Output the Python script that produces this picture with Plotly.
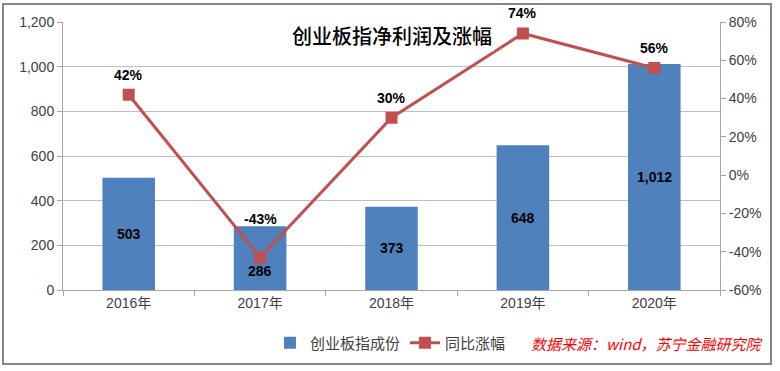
import plotly.graph_objects as go

years = ["2016年", "2017年", "2018年", "2019年", "2020年"]
profit = [503, 286, 373, 648, 1012]
growth = [0.42, -0.43, 0.30, 0.74, 0.56]
profit_labels = ["503", "286", "373", "648", "1,012"]
growth_labels = ["42%", "-43%", "30%", "74%", "56%"]
left_ticks = [0, 200, 400, 600, 800, 1000, 1200]
left_ticktext = ["0", "200", "400", "600", "800", "1,000", "1,200"]
right_ticks = [-0.6, -0.4, -0.2, 0.0, 0.2, 0.4, 0.6, 0.8]
right_ticktext = ["-60%", "-40%", "-20%", "0%", "20%", "40%", "60%", "80%"]

BAR = "#4F81BD"
LINE = "#C0504D"
FONT = "Liberation Sans, Noto Sans CJK SC, sans-serif"
CJK = "Noto Sans CJK SC, sans-serif"

fig = go.Figure()
fig.add_trace(go.Bar(x=years, y=profit, name="创业板指成份", marker_color=BAR,
                     marker_line_width=0, yaxis="y"))
fig.add_trace(go.Scatter(x=years, y=growth, name="同比涨幅", mode="lines+markers",
                         line=dict(color=LINE, width=3),
                         marker=dict(symbol="square", size=12, color=LINE),
                         yaxis="y2"))

ann = []
for i, (c, v) in enumerate(zip(years, profit)):
    ann.append(dict(x=c, y=v / 2, xref="x", yref="y", text="<b>%s</b>" % profit_labels[i],
                    showarrow=False, font=dict(size=14, color="black", family=FONT),
                    yshift=-13 if i == 1 else 0))
for i, (c, v) in enumerate(zip(years, growth)):
    ann.append(dict(x=c, y=v, xref="x", yref="y2", text="<b>%s</b>" % growth_labels[i],
                    showarrow=False, font=dict(size=14, color="black", family=FONT),
                    yshift=38 if i == 1 else 20))
ann.append(dict(x=0.5, y=1.0, xref="paper", yref="paper", yanchor="top", yshift=3,
                text="创业板指净利润及涨幅", showarrow=False, bgcolor="white",
                font=dict(size=20, color="black", family=CJK, weight=500)))
ann.append(dict(x=0.889, y=-0.198, xref="paper", yref="paper", xanchor="center", yanchor="middle",
                text="<i>数据来源：wind，苏宁金融研究院</i>", showarrow=False,
                font=dict(size=15, color="#FF0000", family=CJK)))

fig.update_layout(
    width=780, height=371,
    margin=dict(l=63, r=60, t=22, b=81, autoexpand=False),
    paper_bgcolor="white", plot_bgcolor="white",
    bargap=0.6,
    showlegend=True,
    legend=dict(orientation="h", x=0.315, y=-0.198, xanchor="left", yanchor="middle",
                font=dict(size=15, color="#404040", family=CJK), traceorder="normal"),
    xaxis=dict(type="category", showline=True, linecolor="#A6A6A6", linewidth=1,
               ticks="outside", tickson="boundaries", ticklen=5, tickcolor="#A6A6A6",
               tickfont=dict(size=14, color="#404040", family=FONT), showgrid=False,
               automargin=False),
    yaxis=dict(range=[0, 1200], tickvals=left_ticks, ticktext=left_ticktext, showline=True,
               linecolor="#A6A6A6", ticks="outside", ticklen=5, tickcolor="#A6A6A6",
               showgrid=True, gridcolor="#BFBFBF", gridwidth=1, automargin=False,
               tickfont=dict(size=14, color="#404040", family=FONT), zeroline=False),
    yaxis2=dict(range=[-0.6, 0.8], tickvals=right_ticks, ticktext=right_ticktext,
                overlaying="y", side="right", automargin=False,
                showline=True, linecolor="#A6A6A6", ticks="outside", ticklen=5,
                tickcolor="#A6A6A6", showgrid=False, zeroline=False,
                tickfont=dict(size=14, color="#404040", family=FONT)),
    annotations=ann,
    shapes=[dict(type="rect", xref="paper", yref="paper", x0=-0.0913, x1=1.0776,
                 y0=-0.276, y1=1.067, line=dict(color="#868686", width=2), layer="below")],
)

fig.write_html("out.html", config={"displayModeBar": False},
               post_script="document.body.style.margin='0';")
